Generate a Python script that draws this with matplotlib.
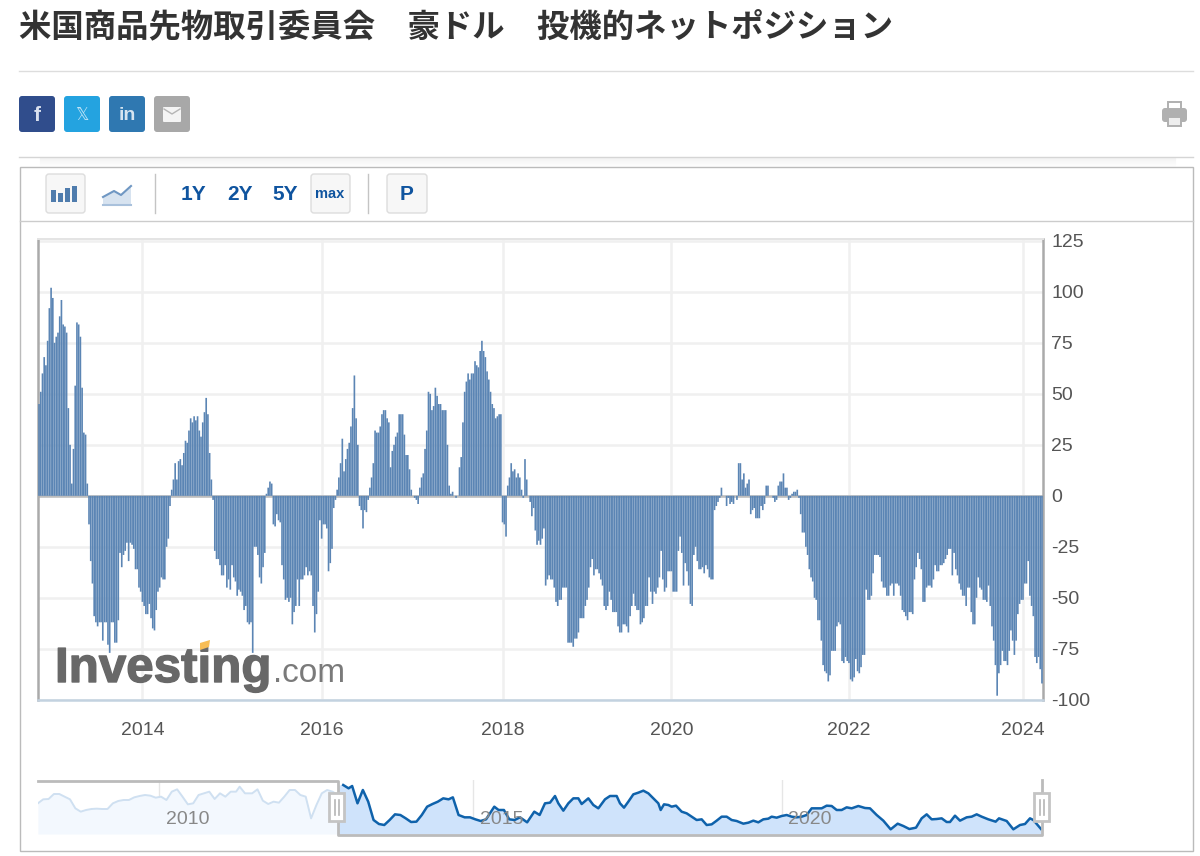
import numpy as np
import matplotlib
matplotlib.use('Agg')
import matplotlib.pyplot as plt
import matplotlib.patheffects as pe
from matplotlib.patches import FancyBboxPatch, Rectangle, Polygon

plt.rcParams['font.family'] = ['Liberation Sans', 'DejaVu Sans']
plt.rcParams['axes.unicode_minus'] = False

W, H = 1200, 856

# weekly net positions
pos_2012 = [45, 51, 60, 68, 64, 76, 92, 102, 97, 75, 78, 80, 88, 96, 84, 83, 80, 43, 25, 6, 23, 54, 85, 84, 78, 53, 31, 30, 6]
neg_2013 = [-14, -32, -43, -59, -62, -64, -62, -62, -71, -62, -62, -73, -77, -62, -62, -72, -72, -61, -28, -35, -29, -27, -23, -32, -23, -24, -26, -36, -36, -45, -47, -52, -54, -58, -58, -53, -60, -65, -66, -56, -47, -45, -40, -41, -41, -25, -21, -5]
pos_2014 = [3, 8, 16, 8, 17, 18, 15, 21, 27, 26, 32, 38, 36, 39, 37, 39, 32, 29, 36, 41, 48, 40, 21, 8]
neg_2014 = [-2, -27, -31, -31, -34, -39, -39, -34, -45, -41, -46, -34, -40, -42, -49, -46, -47, -49, -56, -54, -62, -63, -62, -77, -25, -25, -29, -40, -43, -35, -28]
pos_2015 = [1, 4, 7, 6]
neg_2015 = [-14, -15, -9, -12, -13, -34, -41, -51, -50, -52, -50, -63, -57, -54, -41, -54, -41, -41, -39, -35, -39, -37, -39, -54, -67, -58, -47, -12, -21, -14, -14, -16, -37, -33, -26, -6, -2]
pos_2016 = [3, 9, 16, 28, 12, 18, 23, 26, 34, 43, 59, 38, 25]
neg_2016 = [-5, -7, -16, -7, -8, -2]
pos_2016b = [4, 9, 16, 32, 31, 31, 34, 40, 42, 42, 38, 36, 14, 22, 25, 29, 31, 40, 40, 40, 30, 20, 20, 13, 3, 0, -1, -2, -4]
pos_2017 = [4, 9, 11, 23, 32, 51, 50, 42, 44, 53, 49, 45, 45, 42, 42, 42, 25, 5, 1, 2, 0, -1, 0]
pos_2017b = [14, 19, 36, 51, 56, 60, 57, 60, 60, 66, 64, 63, 71, 76, 71, 68, 61, 57, 51, 45, 43, 38, 39, 40, 40]
neg_2018 = [-13, -14, -20]
pos_2018 = [5, 9, 16, 12, 13, 9, 11, 9, 3, -1, 18, 8, 0]
neg_2018b = [-3, -10, -6, -17, -24, -22, -24, -21, -16, -44, -41, -39, -41, -41, -45, -52, -54, -51, -51, -45, -45, -45, -72, -72, -72, -74, -70, -70, -67, -60, -60, -60, -54, -51, -45, -35, -31, -39, -36, -36, -38, -41, -44, -54, -56, -54, -47, -51, -57, -57, -57, -64, -67, -67, -63, -63, -64, -67, -59, -54, -48, -54, -56, -56, -63, -62, -60, -54, -54, -40, -47, -53, -47, -48, -45, -40, -27, -41, -47, -45, -37, -37, -37, -47, -47, -47, -27, -20, -28, -44, -33, -37, -44, -53, -54, -29, -25, -32, -36, -36, -35, -38, -34, -36, -40, -41, -41]
flat_2020 = [-7, -5, -3, -1, 4, 0, 0, -5, -1, -4, -3, -4, 0, -2, 16, 16, 8, 11, 4, 6, 8, -9, -7, -6, -11, -11, -11, -5, -7, -4, 5, 5, 0, 0, -1, -3, -2, 5, 7, 7, 11, 4, 4, -2, -1, 1, 2, 2, 3, -1]
neg_2021 = [-9, -18, -18, -25, -29, -36, -40, -42, -50, -51, -61, -61, -71, -83, -86, -87, -91, -88, -76, -76, -76, -64, -62, -63, -81, -82, -79, -81, -82, -90, -91, -89, -80, -86, -87, -84, -78, -78, -46, -51, -51, -49, -38, -29, -29, -29, -30, -42, -45, -45, -49, -49, -44, -43, -49, -43, -43, -44, -49, -56, -57, -59, -61, -57, -57, -58, -41, -35, -28, -31, -36, -52, -52, -45, -44, -44, -45, -41, -34, -37, -37, -34, -34, -33, -31, -29, -26, -26, -39, -28, -36, -39, -43, -46, -49, -49, -54, -45, -45, -57, -63, -63, -50, -40, -45, -46, -51, -51, -52, -44, -54, -64, -71, -83, -98, -87, -83, -76, -81, -81, -83, -76, -66, -71, -78, -71, -58, -53, -51, -51, -43, -43, -32, -49, -54, -59, -79, -82, -79, -85, -92]
net_pos = (pos_2012 + neg_2013 + pos_2014 + neg_2014 + pos_2015 + neg_2015 + pos_2016 + neg_2016 + pos_2016b
    + pos_2017 + pos_2017b + neg_2018 + pos_2018 + neg_2018b + flat_2020 + neg_2021)

year_labels = ['2014', '2016', '2018', '2020', '2022', '2024']
year_ticks = [60, 164, 269, 367, 470, 571]
y_ticks = [-100, -75, -50, -25, 0, 25, 50, 75, 100, 125]

# navigator line, heights read in three pieces
nav_a_x = [50, 65, 80, 95, 110, 125, 140, 155, 170, 185, 200, 215, 230, 245, 260, 275, 290, 305, 320, 335, 350, 365, 380, 395, 410, 425, 440, 455, 470, 485, 500, 515, 530, 545, 560, 575, 590, 605, 615, 630, 650, 665, 680, 695, 710, 725, 740, 755, 770, 785, 800, 815, 830, 845, 860, 875, 890, 905, 920, 930, 945, 960, 975, 990, 1005, 1020, 1035, 1050, 1065, 1080, 1095, 1110, 1125, 1140, 1155, 1170, 1185, 1200, 1212, 1228, 1245, 1260, 1275, 1290, 1305, 1328, 1340, 1355, 1370, 1385, 1400, 1420, 1440, 1455, 1470]
nav_a_y = [130, 118, 117, 102, 102, 110, 118, 145, 155, 150, 147, 146, 147, 147, 130, 123, 120, 120, 112, 108, 105, 107, 113, 110, 120, 95, 88, 110, 133, 130, 105, 100, 95, 117, 100, 110, 95, 95, 80, 100, 100, 88, 122, 132, 125, 128, 110, 90, 90, 105, 110, 175, 135, 100, 90, 95, 105, 75, 85, 78, 130, 90, 125, 180, 192, 195, 180, 163, 165, 175, 186, 185, 165, 140, 132, 125, 115, 118, 112, 165, 172, 172, 178, 183, 178, 140, 150, 150, 178, 180, 172, 187, 155, 165, 130]
nav_b_x = [60, 75, 85, 100, 115, 130, 145, 155, 175, 190, 205]
nav_b_y = [128, 108, 130, 152, 130, 115, 115, 132, 115, 135, 145]
nav_c_x = [15, 30, 50, 60, 72, 85, 100, 115, 130, 145, 160, 175, 182, 192, 205, 215, 228, 245, 260, 275, 290, 305, 320, 335, 350, 365, 380, 395, 410, 430, 445, 460, 475, 490, 505, 515, 530, 545, 560, 575, 590, 605, 620, 635, 650, 665, 680, 695, 710, 725, 740, 755, 775, 795, 810, 830, 850, 872, 893, 910, 928, 948, 965, 980, 995, 1010, 1025, 1040, 1050, 1065, 1080, 1100, 1115, 1130, 1145, 1165, 1187, 1197, 1220, 1240, 1260, 1275, 1290, 1300, 1323]
nav_c_y = [118, 108, 108, 130, 143, 125, 103, 98, 92, 100, 115, 130, 150, 133, 135, 140, 137, 155, 160, 170, 180, 178, 195, 193, 182, 170, 170, 180, 183, 191, 188, 182, 187, 178, 176, 170, 173, 168, 165, 170, 172, 170, 165, 145, 145, 145, 137, 138, 150, 150, 142, 145, 138, 144, 145, 165, 182, 208, 191, 198, 207, 203, 175, 163, 178, 177, 175, 186, 186, 167, 182, 172, 170, 163, 170, 178, 185, 175, 183, 208, 195, 192, 175, 180, 207]
nav_labels = ['2010', '2015', '2020']
nav_label_px = [188, 502, 810]
nav_grid_px = [159, 473, 782]

fig = plt.figure(figsize=(W / 100, H / 100), dpi=100, facecolor='white')

def axes_px(left, top, right, bottom, **kw):
    return fig.add_axes([left / W, 1 - bottom / H, (right - left) / W, (bottom - top) / H], **kw)

# page furniture is drawn in pixel coordinates
bg = axes_px(0, 0, W, H)
bg.set_xlim(0, W)
bg.set_ylim(H, 0)
bg.axis('off')

def box(x0, y0, x1, y1, fc, ec='none', r=3, lw=1, z=2):
    bg.add_patch(FancyBboxPatch((x0 + r, y0 + r), x1 - x0 - 2 * r, y1 - y0 - 2 * r,
        boxstyle='round,pad=%d' % r, fc=fc, ec=ec, lw=lw, zorder=z))

bg.text(19, 27, '米国商品先物取引委員会　豪ドル　投機的ネットポジション', fontsize=23.3, fontweight='bold',
    color='#333333', va='center', ha='left', family=['Noto Sans CJK JP', 'DejaVu Sans'])
bg.plot([19, 1193], [71, 71], color='#dddddd', lw=1)

# share buttons
box(19, 96, 55, 132, '#304d8c')
box(64, 96, 100, 132, '#24a3e0')
box(109, 96, 145, 132, '#2f78b1')
box(154, 96, 190, 132, '#a8a8a8')
bg.text(37, 115, 'f', color='#d9e0ee', fontsize=15, fontweight='bold', ha='center', va='center', zorder=3)
bg.text(82, 115, '𝕏', color='#bfe3f6', fontsize=12, ha='center', va='center', family='DejaVu Sans', zorder=3)
bg.text(127, 115, 'in', color='#d5e4f0', fontsize=14, fontweight='bold', ha='center', va='center', zorder=3)
box(163, 107, 181, 122, '#f4f4f4', r=1, z=3)
bg.plot([164, 172, 180], [109, 114, 109], color='#b5b5b5', lw=1, zorder=4)

# printer
box(1162, 108, 1187, 122, '#b0b0b0', r=3)
bg.add_patch(Rectangle((1168, 102), 13, 7, fc='white', ec='#b0b0b0', lw=1.4, zorder=3))
bg.add_patch(Rectangle((1168, 117), 13, 9, fc='#eeeeee', ec='#b0b0b0', lw=1.4, zorder=3))

# shadow under the share row
for i in range(9):
    bg.plot([40, 1175], [158 + i, 158 + i], color='#000000', alpha=0.035 * (1 - i / 9), lw=1, zorder=1)
bg.plot([19, 1193], [157, 157], color='#d5d5d5', lw=1, zorder=2)

# chart frame and toolbar
bg.add_patch(Rectangle((20, 167), 1173, 684, fc='white', ec='#bbbbbb', lw=1, zorder=2))
bg.plot([20, 1193], [221, 221], color='#cccccc', lw=1, zorder=3)
bg.plot([155, 155], [174, 213], color='#c4c4c4', lw=1, zorder=3)
bg.plot([368, 368], [174, 213], color='#c4c4c4', lw=1, zorder=3)
box(46, 174, 85, 213, '#f7f7f7', '#dddddd', z=3)
box(311, 174, 350, 213, '#f7f7f7', '#dddddd', z=3)
box(387, 174, 427, 213, '#f7f7f7', '#dddddd', z=3)
for x0, top in zip([51, 58, 65, 72], [190, 193, 188, 186]):
    bg.add_patch(Rectangle((x0, top), 5, 202 - top, fc='#4f7cad', ec='none', zorder=4))
bg.add_patch(Polygon([[103, 205], [103, 197], [114, 191], [121, 195], [131, 187], [131, 205]], fc='#d7e3f0', ec='none', zorder=3))
bg.plot([103, 114, 121, 131], [197, 191, 195, 186], color='#6f97c3', lw=1.5, zorder=4)
bg.plot([103, 131], [205, 205], color='#a9c1dc', lw=1.5, zorder=4)
for label, x, size in [('1Y', 194, 15), ('2Y', 240, 15), ('5Y', 285, 15), ('max', 330, 10.5), ('P', 407, 15)]:
    bg.text(x, 194, label, color='#0f549f', fontsize=size, fontweight='bold', ha='center', va='center', zorder=5)

# main bar chart
ax = axes_px(38, 239, 1043, 700)
ax.set_zorder(3)
ax.patch.set_alpha(0)
x = np.arange(len(net_pos))
bars = ax.bar(x, net_pos, width=0.96, color='#5b85b4', linewidth=0, zorder=3)
for b in bars:
    b.set_snap(False)
ax.set_xlim(-0.6, len(net_pos) - 0.4)
ax.set_ylim(-100.1, 125.9)
ax.set_xticks(year_ticks)
ax.set_xticklabels(year_labels, fontsize=14, color='#555555')
ax.set_yticks(y_ticks)
ax.set_yticklabels([str(v) for v in y_ticks], fontsize=14, color='#555555')
ax.yaxis.tick_right()
ax.tick_params(axis='both', length=0)
ax.tick_params(axis='y', pad=6)
ax.tick_params(axis='x', pad=15.5)
ax.grid(True, color='#f0f0f0', lw=1.8, zorder=0)
ax.set_axisbelow(True)
ax.axhline(0, color='#bdbdbd', lw=1.8, zorder=2.5)
for side, c, lw in [('left', '#aaaaaa', 1.8), ('right', '#aaaaaa', 1.8), ('top', '#e4e4e4', 1.4), ('bottom', '#c3d2e0', 1.8)]:
    ax.spines[side].set_color(c)
    ax.spines[side].set_linewidth(lw)

# watermark
fg = axes_px(0, 0, W, H)
fg.set_xlim(0, W)
fg.set_ylim(H, 0)
fg.axis('off')
fg.set_zorder(4)
logo = fg.text(55, 682, 'Investing', fontsize=35.5, fontweight='bold', color='#686868', ha='left', va='baseline')
logo.set_path_effects([pe.withStroke(linewidth=1, foreground='#686868')])
fg.text(273, 682, '.com', fontsize=24, color='#7a7a7a', ha='left', va='baseline')
fg.add_patch(Polygon([[200, 643], [210, 640], [209, 647], [200, 650]], fc='#f7bd55', ec='none', zorder=5))

# navigator
nav = axes_px(38, 780, 1043, 834)
nav.set_zorder(3)
nav.set_xlim(0, 1005)
nav.set_ylim(0, 54)
nav.axis('off')
nav_x = np.array([v / 2.8 + 20 - 38 for v in nav_a_x] + [v / 3 + 530 - 38 for v in nav_b_x] + [v / 3 + 600 - 38 for v in nav_c_x])
nav_y = np.array([(222 - v) / 3 for v in nav_a_y + nav_b_y + nav_c_y])
split = 338 - 38
sel = nav_x >= split
for px in nav_grid_px:
    nav.plot([px - 38, px - 38], [0, 54], color='#e6e6e6', lw=1, zorder=1)
nav.fill_between(nav_x[~sel], 0, nav_y[~sel], color='#f3f8fe', lw=0, zorder=2)
nav.fill_between(np.r_[split, nav_x[sel]], 0, np.r_[nav_y[sel][0], nav_y[sel]], color='#cfe3fb', lw=0, zorder=2)
nav.plot(nav_x[~sel], nav_y[~sel], color='#cfe0f1', lw=1.4, zorder=3)
nav.plot(nav_x[sel], nav_y[sel], color='#0f62ab', lw=1.8, zorder=3)

for label, px in zip(nav_labels, nav_label_px):
    fg.text(px, 820, label, fontsize=14, color='#888888', ha='center', va='center')
fg.plot([38, 338, 338, 1042, 1042], [781, 781, 835, 835, 780], color='#bbbbbb', lw=2)
for x0 in [329, 1034]:
    fg.add_patch(Rectangle((x0, 793), 15, 28, fc='white', ec='#c4c4c4', lw=2, zorder=5))
    fg.plot([x0 + 5.5, x0 + 5.5], [800, 815], color='#b5b5b5', lw=1.2, zorder=6)
    fg.plot([x0 + 9.5, x0 + 9.5], [800, 815], color='#b5b5b5', lw=1.2, zorder=6)

fig.savefig('out.png', dpi=100)
